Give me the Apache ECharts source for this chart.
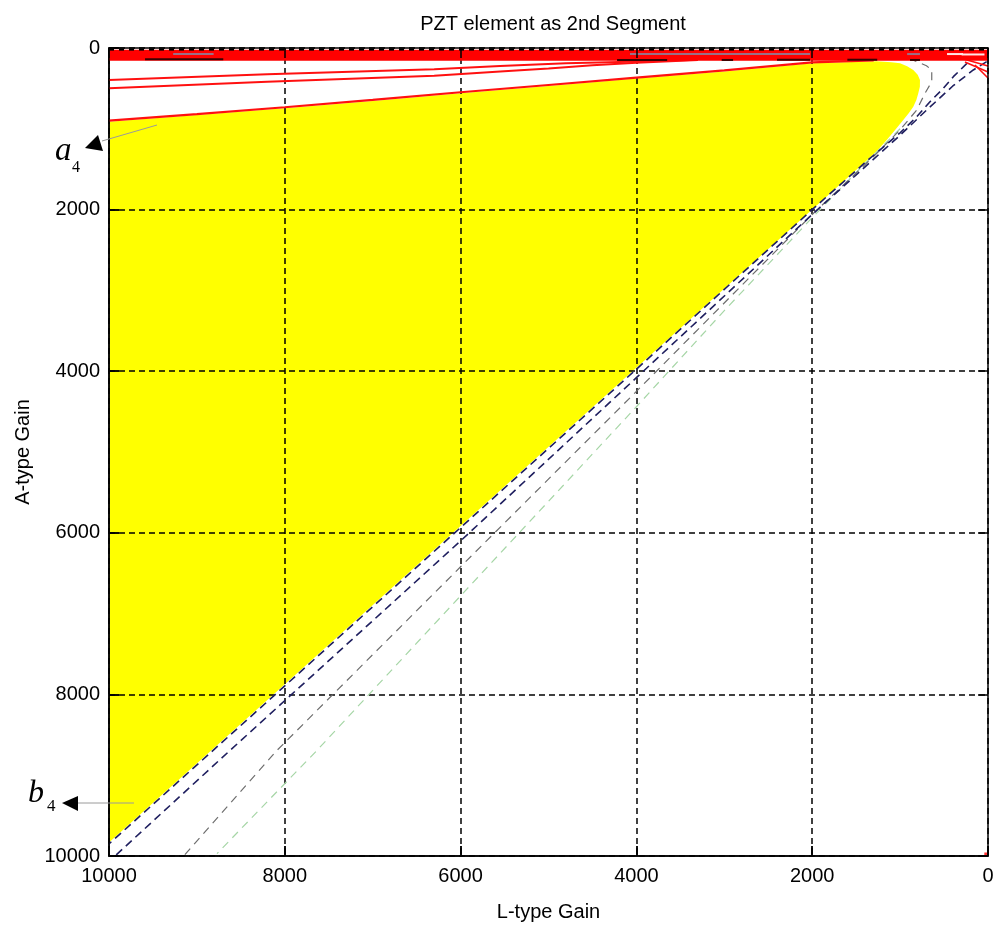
<!DOCTYPE html>
<html>
<head>
<meta charset="utf-8">
<title>PZT element as 2nd Segment</title>
<script src="https://cdn.jsdelivr.net/npm/echarts@6/dist/echarts.min.js"></script>
<style>
  html, body { margin: 0; padding: 0; background: #ffffff; }
  #chart { width: 998px; height: 930px; }
</style>
</head>
<body>
<div id="chart"></div>
<script>
// Axis ticks (both gains run 0..10000, drawn reversed)
const gainTicks = [0, 2000, 4000, 6000, 8000, 10000];

// Stable region (yellow): outline as (L-gain, A-gain) pairs
const regionL = [10000, 9000, 8000, 7000, 6000, 5000, 4000, 3000, 2000, 1266, 1100, 1001, 920, 850, 800, 774, 775, 793, 815, 850, 900, 964, 1050, 1152, 1250, 1380, 2000, 10000];
const regionA = [912, 830, 745, 655, 560, 470, 378, 290, 190, 165, 175, 190, 225, 272, 330, 396, 480, 561, 645, 726, 805, 892, 1005, 1139, 1260, 1393, 2000, 9833];

// Red boundary on top of the region
const edgeL = [10000, 9000, 8000, 7000, 6000, 5000, 4000, 3000, 2000, 1300];
const edgeA = [900, 818, 733, 643, 548, 458, 366, 278, 178, 152];

// Two further red boundaries entering from the left
const redUpperL = [10000, 8200, 6300, 5550, 4800, 4200, 3400];
const redUpperA = [396, 326, 264, 222, 190, 172, 150];
const redLowerL = [10000, 8200, 6300, 5550, 5000, 4500, 4000, 3300];
const redLowerA = [499, 417, 343, 290, 255, 215, 182, 150];

// Red boundaries near the origin
const redCornerL = [[318, 0], [262, 0], [148, 0]];
const redCornerA = [[124, 223], [173, 297], [210, 372]];

// Dense red band along A ~ 0..150
const bandLevels = [40, 65, 90, 115, 138];
const bandL = [10000, 0];

// Dashed boundaries close to the diagonal
const navyAL = [240, 394, 508, 660, 811, 1000, 1380, 2000, 4000, 6000, 8000, 10000];
const navyAA = [190, 355, 499, 665, 851, 1050, 1400, 2000, 3975, 5935, 7895, 9850];
const navyBL = [15, 167, 400, 700, 1000, 1500, 2000, 4000, 6000, 8623, 9932];
const navyBA = [169, 272, 470, 770, 1080, 1570, 2060, 4080, 6100, 8693, 10000];
const grayL = [900, 811, 700, 640, 640, 717, 811, 1001, 1300, 2000, 4000, 6000, 8089, 9150];
const grayA = [130, 169, 220, 272, 417, 561, 768, 1015, 1340, 2060, 4250, 6420, 8693, 10000];
const greenL = [1000, 1400, 2000, 3000, 4000, 6000, 7634, 8771];
const greenA = [1000, 1430, 2100, 3250, 4440, 6780, 8693, 9970];

// Short segments inside the red band: [L start, L end, A]
const mauveSegments = [[9270, 8810, 75], [4073, 2025, 75], [920, 774, 75]];
const darkSegments = [[9590, 8700, 140], [4220, 3650, 148], [3030, 2900, 148], [2400, 2025, 145], [1600, 1260, 145], [887, 774, 148]];
const whiteSegments = [[466, 284, 75], [300, 40, 80]];

// Dashed line along the upper axis
const topDashL = [10000, 0];
const topDashA = [20, 20];

// Isolated point at the lower-right corner
const cornerPoint = [[25, 9975]];

const FONT = "'Liberation Sans', Arial, Helvetica, sans-serif";
const SERIF = "'Liberation Serif', 'Times New Roman', serif";

const pairs = (xs, ys) => xs.map((x, i) => [x, ys[i]]);

function lineSeries(data, color, width, type, z) {
  return {
    type: 'line', data: data, symbol: 'none', showSymbol: false,
    lineStyle: { color: color, width: width, type: type || 'solid' },
    z: z == null ? 3 : z, silent: true, animation: false, clip: true
  };
}

const series = [];

// Yellow region drawn as one polygon through the cartesian coordinates
const regionPts = pairs(regionL, regionA);
series.push({
  type: 'custom',
  coordinateSystem: 'cartesian2d',
  encode: { x: 0, y: 1 },
  data: regionPts,
  z: 0,
  silent: true,
  animation: false,
  renderItem: function (params, api) {
    if (params.dataIndex !== 0) return null;
    const pts = regionPts.map(p => api.coord(p));
    return { type: 'polygon', shape: { points: pts }, style: { fill: '#ffff00', stroke: null } };
  }
});

// Dashed diagonals
series.push(lineSeries(pairs(greenL, greenA), '#a6d6a6', 1.2, [8, 6], 2));
series.push(lineSeries(pairs(grayL, grayA), '#6e6e6e', 1.2, [8, 6], 2));
series.push(lineSeries(pairs(navyBL, navyBA), '#1f1f5f', 1.6, [8, 5], 2));
series.push(lineSeries(pairs(navyAL, navyAA), '#1f1f5f', 1.6, [8, 5], 2));

// Red boundaries
series.push(lineSeries(pairs(edgeL, edgeA), '#ff1010', 2.2, 'solid', 3));
series.push(lineSeries(pairs(redUpperL, redUpperA), '#ff1010', 2, 'solid', 3));
series.push(lineSeries(pairs(redLowerL, redLowerA), '#ff1010', 2, 'solid', 3));
redCornerL.forEach((ls, i) => series.push(lineSeries(pairs(ls, redCornerA[i]), '#ff1010', 1.6, 'solid', 3)));

// Red band
bandLevels.forEach(a => series.push(lineSeries(bandL.map(l => [l, a]), '#ff0000', 3, 'solid', 4)));

// Segments inside the band
mauveSegments.forEach(s => series.push(lineSeries([[s[0], s[2]], [s[1], s[2]]], '#9a7088', 2, 'solid', 5)));
darkSegments.forEach(s => series.push(lineSeries([[s[0], s[2]], [s[1], s[2]]], '#3a0000', 2, 'solid', 5)));
whiteSegments.forEach(s => series.push(lineSeries([[s[0], s[2]], [s[1], s[2]]], '#ffe6e6', 2, 'solid', 5)));

// Black dashed line at the top
series.push(lineSeries(pairs(topDashL, topDashA), '#000000', 2, [5, 5], 6));

// Corner point
series.push({
  type: 'scatter', data: cornerPoint, symbol: 'rect', symbolSize: 3,
  itemStyle: { color: '#ff0000' }, z: 6, silent: true, animation: false
});

const axisCommon = {
  type: 'value', min: gainTicks[0], max: gainTicks[gainTicks.length - 1],
  interval: gainTicks[1] - gainTicks[0], inverse: true
};
const plainLabel = v => String(v);
const frameLine = { show: true, onZero: false, lineStyle: { color: '#000', width: 1.5 } };
const innerTick = { show: true, inside: true, length: 10, lineStyle: { color: '#000', width: 1.5 } };

// Plain axis used only for the box outline and inner ticks
function frameAxis(position) {
  return Object.assign({}, axisCommon, {
    position: position, z: 10,
    axisLine: frameLine, axisTick: innerTick,
    axisLabel: { show: false }, splitLine: { show: false }
  });
}

const option = {
  backgroundColor: '#ffffff',
  animation: false,
  title: {
    text: 'PZT element as 2nd Segment',
    left: 548, top: 9, textAlign: 'center',
    textStyle: { fontFamily: FONT, fontSize: 20, fontWeight: 'normal', color: '#000' }
  },
  grid: { left: 109, right: 10, top: 48, bottom: 74, containLabel: false },
  xAxis: [
    Object.assign({}, axisCommon, {
      position: 'bottom', z: 1,
      name: 'L-type Gain', nameLocation: 'middle', nameGap: 46,
      nameTextStyle: { fontFamily: FONT, fontSize: 20, color: '#000' },
      axisLine: frameLine,
      axisTick: innerTick,
      axisLabel: { fontFamily: FONT, fontSize: 20, color: '#000', margin: 10, formatter: plainLabel },
      splitLine: { show: true, lineStyle: { color: '#000', width: 1.5, type: [6, 4] } }
    }),
    frameAxis('top'),
    frameAxis('bottom')
  ],
  yAxis: [
    Object.assign({}, axisCommon, {
      position: 'left', z: 1,
      name: 'A-type Gain', nameLocation: 'middle', nameGap: 70,
      nameTextStyle: { fontFamily: FONT, fontSize: 20, color: '#000' },
      axisLine: frameLine,
      axisTick: innerTick,
      axisLabel: { fontFamily: FONT, fontSize: 20, color: '#000', margin: 9, formatter: plainLabel },
      splitLine: { show: true, lineStyle: { color: '#000', width: 1.5, type: [6, 4] } }
    }),
    frameAxis('right'),
    frameAxis('left')
  ],
  series: series,
  graphic: [
    // a4 annotation
    { type: 'line', z: 100, shape: { x1: 102, y1: 141, x2: 157, y2: 125 }, style: { stroke: '#9a9a9a', lineWidth: 1 } },
    { type: 'polygon', z: 100, shape: { points: [[85, 148], [98, 135], [103, 151]] }, style: { fill: '#000' } },
    { type: 'text', z: 100, style: { x: 55, y: 168, text: 'a', font: 'italic 33px ' + SERIF, fill: '#000', verticalAlign: 'bottom' } },
    { type: 'text', z: 100, style: { x: 72, y: 176, text: '4', font: '16px ' + SERIF, fill: '#000', verticalAlign: 'bottom' } },
    // b4 annotation
    { type: 'line', z: 100, shape: { x1: 78, y1: 803, x2: 134, y2: 803 }, style: { stroke: '#9a9a9a', lineWidth: 1 } },
    { type: 'polygon', z: 100, shape: { points: [[62, 803], [78, 796], [78, 811]] }, style: { fill: '#000' } },
    { type: 'text', z: 100, style: { x: 28, y: 810, text: 'b', font: 'italic 32px ' + SERIF, fill: '#000', verticalAlign: 'bottom' } },
    { type: 'text', z: 100, style: { x: 47, y: 815, text: '4', font: '17px ' + SERIF, fill: '#000', verticalAlign: 'bottom' } }
  ]
};

const chart = echarts.init(document.getElementById('chart'), null, { renderer: 'canvas' });
chart.setOption(option);
</script>
</body>
</html>
